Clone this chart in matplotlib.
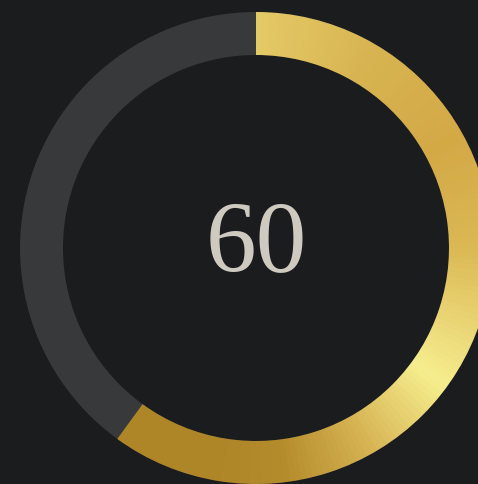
import numpy as np
import matplotlib.pyplot as plt
from matplotlib.patches import Wedge
from matplotlib.colors import LinearSegmentedColormap

value = 60
max_value = 100
label = "60"

# colour stops along the ring (fraction of a full turn, clockwise from top)
stop_pos = [0.0, 0.08, 0.17, 0.25, 0.31, 0.35, 0.42, 0.48, 0.53, 1.0]
stop_col = ["#e4ca66", "#d8b552", "#d3a946", "#dbb955", "#ecd878",
            "#f6ee8e", "#d6b252", "#b48c2c", "#ae8628", "#ae8628"]

bg = "#1b1c1e"
track = "#38393b"
text_col = "#cfcac0"

W, H = 478, 484
fig = plt.figure(figsize=(W / 100, H / 100), dpi=100, facecolor=bg)
ax = fig.add_axes([0, 0, 1, 1])
ax.set_facecolor(bg)
ax.set_xlim(0, W)
ax.set_ylim(0, H)
ax.set_aspect("equal")
ax.axis("off")

cx, cy = 256, H - 248
r_out, ring_w = 236, 43

ax.add_patch(Wedge((cx, cy), r_out, 0, 360, width=ring_w, facecolor=track, edgecolor="none", zorder=1))

sweep = 360 * value / max_value
cmap = LinearSegmentedColormap.from_list("gold", list(zip(stop_pos, stop_col)))
xs = np.arange(0, W) + 0.5
ys = np.arange(0, H) + 0.5
X, Y = np.meshgrid(xs, ys)
ang = np.degrees(np.arctan2(X - cx, Y - cy)) % 360  # clockwise from top
img = ax.imshow(cmap(ang / 360), extent=(0, W, 0, H), origin="lower",
                interpolation="bilinear", zorder=2)
arc = Wedge((cx, cy), r_out, 90 - sweep, 90, width=ring_w, facecolor="none", edgecolor="none")
ax.add_patch(arc)
img.set_clip_path(arc)

ax.text(cx, H - 247, label, color=text_col, fontsize=73, family="Liberation Serif",
        ha="center", va="center", zorder=3)

fig.savefig("out.png", dpi=100, facecolor=bg)
